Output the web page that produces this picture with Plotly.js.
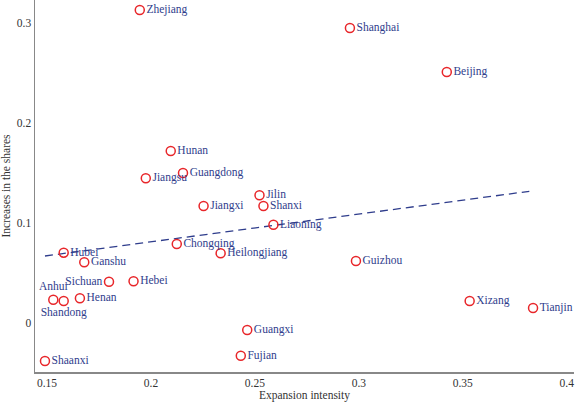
<!DOCTYPE html>
<html>
<head>
<meta charset="utf-8">
<script src="https://cdn.plot.ly/plotly-3.0.1.min.js"></script>
<style>
  html, body { margin: 0; padding: 0; background: #fff; }
  #chart { width: 576px; height: 403px; }
</style>
</head>
<body>
<div id="chart"></div>
<script>
// Provinces: expansion intensity vs. increase in shares
const provinces = ["Zhejiang", "Shanghai", "Beijing", "Hunan", "Guangdong", "Jiangsu",
  "Jilin", "Jiangxi", "Shanxi", "Liaoning", "Chongqing", "Hubei", "Heilongjiang",
  "Ganshu", "Guizhou", "Sichuan", "Hebei", "Anhui", "Shandong", "Henan",
  "Xizang", "Tianjin", "Guangxi", "Fujian", "Shaanxi"];
const expansion = [0.1946, 0.2957, 0.3423, 0.2095, 0.2154, 0.1975,
  0.2522, 0.2253, 0.2541, 0.2589, 0.2124, 0.1580, 0.2335,
  0.1679, 0.2986, 0.1798, 0.1916, 0.1530, 0.1580, 0.1658,
  0.3533, 0.3838, 0.2463, 0.2432, 0.1490];
const shareIncrease = [0.313, 0.295, 0.251, 0.172, 0.150, 0.1447,
  0.1277, 0.117, 0.117, 0.0983, 0.079, 0.0703, 0.0697,
  0.0607, 0.062, 0.0413, 0.0417, 0.0233, 0.022, 0.0247,
  0.022, 0.015, -0.007, -0.0327, -0.038];
const labelSide = ["middle right", "middle right", "middle right", "middle right", "middle right", "middle right",
  "middle right", "middle right", "middle right", "middle right", "middle right", "middle right", "middle right",
  "middle right", "middle right", "middle left", "middle right", "top center", "bottom center", "middle right",
  "middle right", "middle right", "middle right", "middle right", "middle right"];

// Fitted linear trend, end points
const trendX = [0.149, 0.382];
const trendY = [0.067, 0.1317];

const xTickVals = [0.15, 0.2, 0.25, 0.3, 0.35, 0.4];
const xTickText = ["0.15", "0.2", "0.25", "0.3", "0.35", "0.4"];
const yTickVals = [0, 0.1, 0.2, 0.3];
const yTickText = ["0", "0.1", "0.2", "0.3"];

const serif = "Liberation Serif";
const labelBlue = "#2f3d8c";

const traces = [
  {
    x: trendX, y: trendY, type: "scatter", mode: "lines",
    line: { color: "#2f3d8c", width: 1.3, dash: "8px,5px" },
    hoverinfo: "skip", showlegend: false
  },
  {
    x: expansion, y: shareIncrease, text: provinces, type: "scatter",
    mode: "markers+text", textposition: labelSide,
    textfont: { family: serif, size: 11.5, color: labelBlue },
    marker: { symbol: "circle-open", size: 9, color: "#e8262a", line: { width: 1.5, color: "#e8262a" } },
    showlegend: false
  }
];

const layout = {
  width: 576, height: 403,
  margin: { l: 35, r: 2, t: 0, b: 31 },
  paper_bgcolor: "#fff", plot_bgcolor: "#fff",
  font: { family: serif, size: 11, color: "#333" },
  xaxis: {
    range: [0.1442, 0.4035],
    tickvals: xTickVals, ticktext: xTickText,
    showgrid: false, zeroline: false, ticks: "",
    showline: true, linecolor: "#888", linewidth: 1.5,
    tickfont: { family: serif, size: 11.5, color: "#333" },
    title: { text: "Expansion intensity", font: { family: serif, size: 11.5, color: "#333" }, standoff: 1 }
  },
  yaxis: {
    range: [-0.049, 0.323],
    tickvals: yTickVals, ticktext: yTickText,
    showgrid: false, zeroline: false, ticks: "",
    showline: true, linecolor: "#888", linewidth: 1.5,
    tickfont: { family: serif, size: 11.5, color: "#333" },
    title: { text: "Increases in the shares", font: { family: serif, size: 11.5, color: "#333" }, standoff: 6 }
  }
};

Plotly.newPlot("chart", traces, layout, { displayModeBar: false, staticPlot: true });
</script>
</body>
</html>
